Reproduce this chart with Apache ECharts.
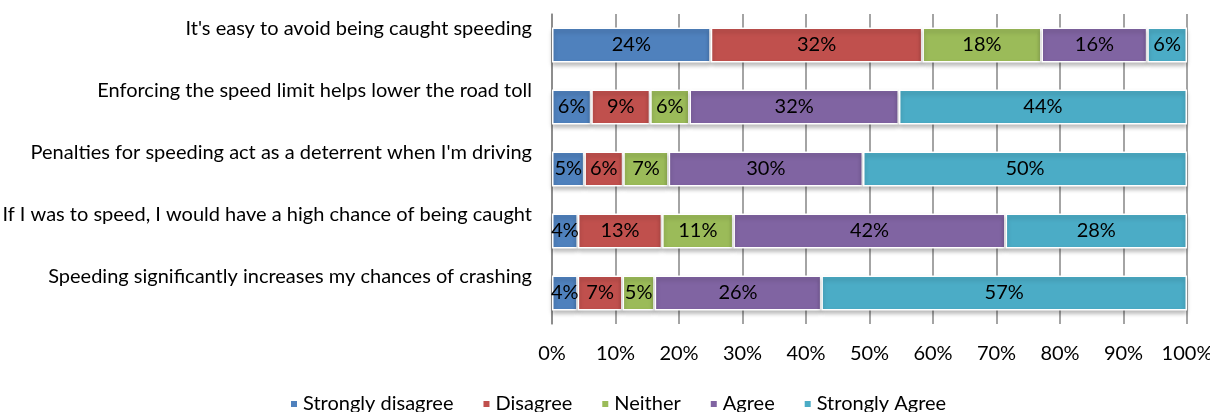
<!DOCTYPE html>
<html>
<head>
<meta charset="utf-8">
<script src="https://cdn.jsdelivr.net/npm/echarts@6/dist/echarts.min.js"></script>
<style>
  html, body { margin: 0; padding: 0; background: #fff; }
  #chart { width: 1210px; height: 412px; }
</style>
</head>
<body>
<div id="chart"></div>
<script>
// categories, top to bottom
const questions = [
  "It's easy to avoid being caught speeding",
  "Enforcing the speed limit helps lower the road toll",
  "Penalties for speeding act as a deterrent when I'm driving",
  "If I was to speed, I would have a high chance of being caught",
  "Speeding significantly increases my chances of crashing"
]
const seriesNames = ['Strongly disagree', 'Disagree', 'Neither', 'Agree', 'Strongly Agree']
const colors = ['#4F81BD', '#C0504D', '#9BBB59', '#8064A2', '#4BACC6']

// percentages shown on the bars
const stronglyDisagree = [24, 6, 5, 4, 4]
const disagree = [32, 9, 6, 13, 7]
const neither = [18, 6, 7, 11, 5]
const agree = [16, 32, 30, 42, 26]
const stronglyAgree = [6, 44, 50, 28, 57]

const xTicks = [0, 10, 20, 30, 40, 50, 60, 70, 80, 90, 100]

const allValues = [stronglyDisagree, disagree, neither, agree, stronglyAgree]
// each bar is stacked to 100%
const rowTotals = questions.map((q, i) => allValues.reduce((s, arr) => s + arr[i], 0))

const chart = echarts.init(document.getElementById('chart'))

const series = allValues.map((arr, k) => ({
  name: seriesNames[k],
  type: 'bar',
  stack: 'total',
  barWidth: 35,
  data: arr.map((v, i) => ({ value: v / rowTotals[i] * 100, raw: v })),
  itemStyle: {
    color: colors[k],
    borderColor: '#fff',
    borderWidth: 1.5,
    shadowColor: 'rgba(0,0,0,0.25)',
    shadowBlur: 4,
    shadowOffsetY: 3
  },
  label: {
    show: true,
    position: 'inside',
    color: '#000',
    fontFamily: 'Lato',
    fontSize: 20,
    formatter: p => p.data.raw + '%'
  }
}))

chart.setOption({
  animation: false,
  textStyle: { fontFamily: 'Lato' },
  grid: { left: 552, right: 23, top: 14, bottom: 88, outerBoundsMode: 'none' },
  legend: {
    top: 389,
    left: 284,
    icon: 'rect',
    itemWidth: 8,
    itemHeight: 8,
    itemGap: 28,
    textStyle: { fontSize: 20, color: '#000', fontFamily: 'Lato' },
    data: seriesNames
  },
  xAxis: {
    type: 'value',
    min: 0,
    max: 100,
    interval: 10,
    axisLine: { show: false },
    axisTick: { show: false },
    splitLine: { show: true, lineStyle: { color: '#868686', width: 1.5 } },
    axisLabel: {
      fontSize: 20,
      color: '#000',
      margin: 20,
      formatter: v => xTicks.includes(v) ? v + '%' : ''
    }
  },
  yAxis: {
    type: 'category',
    inverse: true,
    data: questions,
    axisLine: { show: true, lineStyle: { color: '#868686', width: 1.5 } },
    axisTick: { show: false },
    axisLabel: {
      interval: 0,
      hideOverlap: false,
      fontSize: 20,
      color: '#000',
      margin: 20,
      lineHeight: 32,
      // second empty line lifts the text above the bar centre
      formatter: v => v + '\n '
    }
  },
  series: series
})
</script>
</body>
</html>
